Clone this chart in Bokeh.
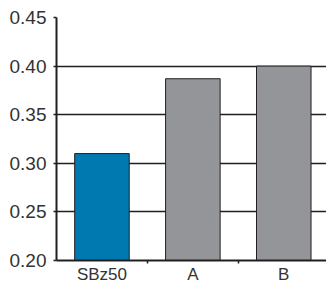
from bokeh.plotting import figure
from bokeh.models import Range1d, FixedTicker, ColumnDataSource, PrintfTickFormatter
from bokeh.embed import file_html
from bokeh.resources import INLINE

categories = ["SBz50", "A", "B"]
values = [0.31, 0.387, 0.40]
colors = ["#0079b1", "#939598", "#939598"]
y_ticks = [0.20, 0.25, 0.30, 0.35, 0.40, 0.45]

xs = [i + 0.5 for i in range(len(categories))]
src = ColumnDataSource(dict(x=xs, top=values, color=colors))

p = figure(width=326, height=286, output_backend="svg", toolbar_location=None,
           x_range=Range1d(0, 2.97), y_range=Range1d(0.20, 0.45),
           min_border_top=17, min_border_right=0, min_border_left=56, min_border_bottom=0)
p.outline_line_color = None
p.background_fill_color = "white"
p.border_fill_color = "white"

p.vbar(x="x", top="top", bottom=0.20, width=0.6, fill_color="color",
       line_color="#231f20", line_width=1, source=src)

p.xgrid.grid_line_color = None
p.ygrid.ticker = FixedTicker(ticks=y_ticks)
p.ygrid.grid_line_color = "#231f20"
p.ygrid.grid_line_width = 1.5

p.yaxis.ticker = FixedTicker(ticks=y_ticks)
p.yaxis.formatter = PrintfTickFormatter(format="%.2f")
p.yaxis.axis_line_color = "#231f20"
p.yaxis.axis_line_width = 2
p.yaxis.major_tick_line_color = "#231f20"
p.yaxis.major_tick_line_width = 1.5
p.yaxis.major_tick_out = 3
p.yaxis.major_tick_in = 0
p.yaxis.minor_tick_line_color = None
p.yaxis.major_label_standoff = 7
p.yaxis.major_label_text_font = "Liberation Sans"
p.yaxis.major_label_text_font_size = "19px"
p.yaxis.major_label_text_color = "#333333"

p.xaxis.ticker = FixedTicker(ticks=xs, minor_ticks=[1, 2])
p.xaxis.major_label_overrides = {x: c for x, c in zip(xs, categories)}
p.xaxis.axis_line_color = "#231f20"
p.xaxis.axis_line_width = 2
p.xaxis.major_tick_line_color = None
p.xaxis.minor_tick_line_color = "#231f20"
p.xaxis.minor_tick_line_width = 1.5
p.xaxis.minor_tick_out = 3
p.xaxis.minor_tick_in = 0
p.xaxis.major_tick_out = 3
p.xaxis.major_label_standoff = 1
p.xaxis.major_label_text_font = "Liberation Sans"
p.xaxis.major_label_text_font_size = "17px"
p.xaxis.major_label_text_color = "#333333"

open("out.html", "w").write(file_html(p, INLINE))
